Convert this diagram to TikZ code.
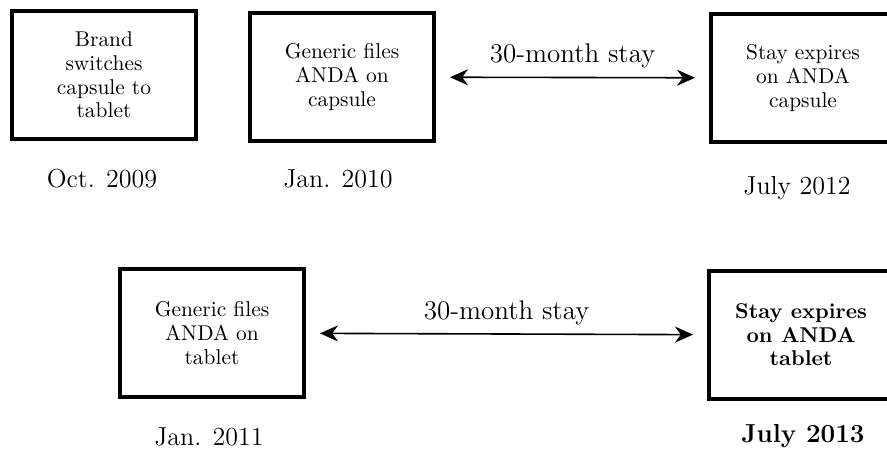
\documentclass[tikz,border=0pt]{standalone}
\usepackage{tikz}
\usetikzlibrary{arrows.meta}
\usetikzlibrary{positioning}

\begin{document}
\begin{tikzpicture}[x=0.5pt,y=-0.5pt,<->,>={Stealth[length=9pt,width=8pt]},shorten >=7pt,shorten <=7pt,
	thick,box/.style={rectangle,draw,line width=2pt,minimum width=92pt,minimum height=64pt,align=center,font=\fontsize{10.7}{11.8}\selectfont},
	boldbox/.style={box,font=\fontsize{10.7}{11.8}\selectfont\bfseries},
	date/.style={anchor=base,font=\fontsize{13}{15}\selectfont}]

	\useasboundingbox (0,0) rectangle (887,454);
	\clip (0,0) rectangle (887,454);

	\node[box] (brand) at (104,75) {Brand\\switches\\capsule to\\tablet};
	\node[box] (capfile) at (342,77) {Generic files\\ANDA on\\capsule};
	\node[box] (capexp) at (803,78) {Stay expires\\on ANDA\\capsule};
	\node[box] (tabfile) at (212,333) {Generic files\\ANDA on\\tablet};
	\node[boldbox] (tabexp) at (801,335) {Stay expires\\on ANDA\\tablet};

	\node[date] (oct09) at (102,188) {Oct. 2009};
	\node[date] (jan10) at (338,188) {Jan. 2010};
	\node[date] (jul12) at (797,195) {July 2012};
	\node[date] (jan11) at (209,445) {Jan. 2011};
	\node[date,font=\fontsize{13}{15}\selectfont\bfseries] (jul13) at (803,442) {July 2013};

	\path[every node/.style={font=\fontsize{13.5}{15}\selectfont}]
		(capfile) edge node [above=1pt] {30-month stay} (capexp)
		(tabfile) edge node [above=1pt] {30-month stay} (tabexp);

\end{tikzpicture}
\end{document}
